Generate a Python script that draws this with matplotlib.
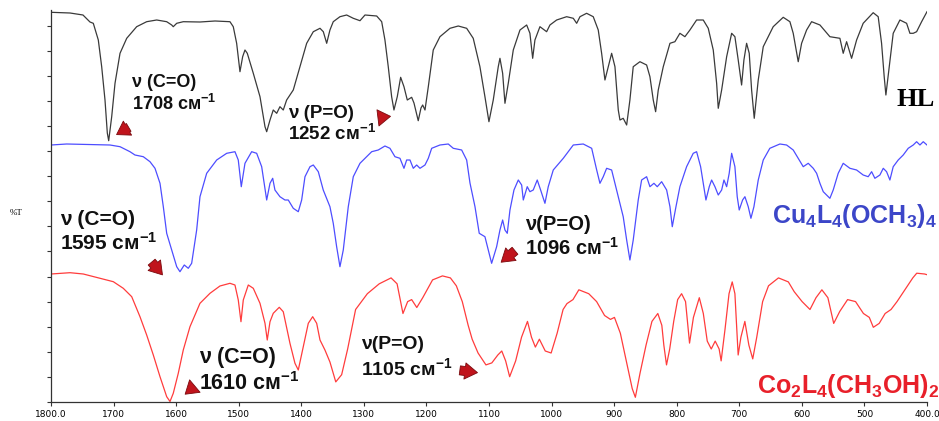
import numpy as np
import matplotlib
matplotlib.use("Agg")
import matplotlib.pyplot as plt
from matplotlib.patches import FancyArrowPatch

plt.rcParams['font.family'] = ['Liberation Sans', 'DejaVu Sans']
plt.rcParams['mathtext.fontset'] = 'custom'
plt.rcParams['mathtext.rm'] = 'Liberation Sans:bold'
plt.rcParams['mathtext.it'] = 'Liberation Sans:bold'
plt.rcParams['mathtext.bf'] = 'Liberation Sans:bold'

# IR spectra, stacked (%T on a common offset scale), wavenumber in cm-1
hl_wn = [1800, 1769.6, 1748.9, 1737.7, 1732.4, 1724.4, 1719, 1713.7, 1710, 1707.8, 1703, 1697.7,
         1689.7, 1679, 1663.1, 1647.1, 1631.1, 1615.1, 1607.1, 1604.6, 1599.1, 1588.6, 1561.9, 1537.9,
         1514, 1508.7, 1503.3, 1498, 1493.7, 1490, 1486.3, 1476.7, 1466, 1458, 1455.3, 1450, 1444.8,
         1439.3, 1434.1, 1428.8, 1423.4, 1412.8, 1402.1, 1391.4, 1380.8, 1370.1, 1364.8, 1359.4, 1354.2,
         1348.9, 1338.2, 1327.5, 1316.9, 1306.2, 1298.2, 1279.5, 1271.5, 1266.3, 1261, 1255.6, 1251.9,
         1246.6, 1241.2, 1235.9, 1230.6, 1223.6, 1219.9, 1213.1, 1208.7, 1206, 1202.3, 1197, 1189.1,
         1178.4, 1162.4, 1149.1, 1135.7, 1125.2, 1114.5, 1106.5, 1100.1, 1093.2, 1085.2, 1082.5, 1078.2,
         1074.5, 1069.2, 1061.2, 1050.5, 1039.8, 1034.6, 1030.2, 1026.6, 1018.6, 1007.9, 1002.6, 991.9,
         975.9, 965.3, 959.9, 954.6, 944, 933.4, 925.4, 920, 914.7, 909.4, 904, 898.7, 893.4, 890.7,
         885.5, 880, 874.8, 869.5, 858.8, 848.1, 842.8, 837.5, 833.7, 829.5, 821.5, 810.8, 802.9, 794.9,
         786.9, 778.9, 768.2, 757.6, 749.6, 741.6, 736.2, 733.6, 728.2, 720.2, 712.2, 707, 701.7, 696.3,
         692.6, 688.3, 684.1, 680.3, 676.1, 669.7, 661.7, 645.8, 629.8, 619.1, 613.8, 605.8, 600.4, 592.4,
         584.4, 571.1, 555.2, 539.2, 533.9, 528.5, 520.5, 512.5, 502, 486, 478, 472.6, 468.4, 465.7,
         460.4, 454, 443.3, 432.6, 427.3, 422, 416.6, 408.6, 400]
hl_t = [389.7, 389, 387, 380, 378.7, 362, 335.3, 302, 269, 261.3, 285.3, 318.7,
        348.7, 363.7, 375.3, 380.3, 382, 380.3, 377, 375.3, 378.7, 380.3, 380, 381,
        380.3, 375.3, 358.7, 330.3, 345.3, 352, 348.7, 328.7, 305.3, 275.3, 270.3, 282, 292,
        288.7, 295.3, 292, 302, 312, 335.3, 358.7, 370.3, 373.7, 370.3, 358.7, 372,
        380.3, 385.3, 387, 383.7, 381.3, 387, 386, 380.3, 362, 335.3, 305.3, 292,
        305.3, 324.7, 315.3, 302, 304.7, 299, 281.3, 294, 297, 292, 315.3, 352,
        365.3, 373.7, 376, 373.7, 363.7, 335.3, 305.3, 280.3, 302, 335.3, 343.7, 328.7,
        298.7, 318.7, 352, 372, 377, 368.7, 343.7, 362, 375.3, 370.3, 377, 382,
        385.3, 383.7, 378.7, 385.3, 388.7, 385.3, 372, 348.7, 322, 335.3, 348.7, 335.3, 292, 282,
        283.7, 277, 302, 335.3, 340.3, 337, 325.3, 302, 290.3, 312, 335.3, 358.7, 360.3, 368.7,
        365.3, 372, 382, 382, 373.7, 352, 318.7, 293.7, 312, 345.3, 368.7, 365.3, 342, 317,
        342, 358.7, 348.7, 312, 283.7, 322, 355.3, 375.3, 384.7, 380.3, 368.7, 340.3, 358.7, 372,
        380.3, 377, 365.3, 363.7, 348.7, 360.3, 343.7, 362, 378.7, 389.3, 385.3, 358.7, 325.3, 307,
        335.3, 368.7, 382, 378.7, 368.7, 368.7, 370.3, 380.3, 390.3]

cu_wn = [1800, 1774.9, 1705.7, 1689.7, 1673.8, 1665.8, 1652.5, 1641.8, 1633.8, 1625.8, 1620.5, 1615.1,
         1607.1, 1599.1, 1593.9, 1587, 1580.6, 1575.2, 1567.2, 1561.9, 1551.2, 1535.2, 1519.2, 1506,
         1500.7, 1495.9, 1490, 1479.3, 1471.3, 1463.3, 1455.3, 1450, 1445.7, 1442.1, 1434.1, 1426.1,
         1420.8, 1412.8, 1404.8, 1399.4, 1394.1, 1386.1, 1380.8, 1372.8, 1364.9, 1354.2, 1348.9, 1343.5,
         1338.2, 1332.9, 1324.9, 1316.9, 1306.2, 1295.5, 1287.5, 1277, 1266.3, 1258.3, 1250.3, 1242.3,
         1235.9, 1231.6, 1226.3, 1221, 1215.6, 1210.3, 1202.3, 1197, 1191.6, 1178.4, 1165.1, 1157.1,
         1143.7, 1135.7, 1130.4, 1122.4, 1115.6, 1106.5, 1101.2, 1095.8, 1087.8, 1082.5, 1078.2, 1074.5,
         1070.8, 1066.5, 1060.1, 1053.2, 1047.8, 1045.2, 1038.9, 1034.6, 1029.3, 1022.9, 1017.5, 1010.6,
         1005.3, 997.3, 981.3, 965.3, 949.4, 935.9, 927.9, 922.7, 917.4, 912, 904, 896, 885.5, 880,
         874.8, 869.5, 861.5, 856.1, 848.1, 842.8, 836.4, 831.1, 824.1, 816.1, 810.8, 807.1, 801.2,
         794.9, 784.2, 773.6, 768.2, 761.8, 757.6, 753.3, 748, 744.2, 738.9, 733.6, 728.2, 724.5, 720.2,
         716.1, 712.2, 707, 703.3, 700.1, 694.7, 691, 685.7, 681.4, 676.6, 669.7, 661.7, 651.2, 635.1,
         624.4, 613.8, 605.8, 597.8, 589.8, 581.8, 576.4, 571.1, 565.8, 555.2, 549.9, 541.9, 533.9,
         523.2, 512.5, 502, 494, 488.5, 483.3, 475.3, 469.9, 464.6, 459.3, 454, 446, 438, 430, 422,
         416.6, 411.3, 406, 400]
cu_t = [257, 258, 257, 255.3, 250.3, 247, 245.3, 240.3, 233.7, 218.7, 195.3, 168.7,
        152, 135.3, 130.3, 137, 133.7, 138.7, 172, 205.3, 228.7, 242, 248.7, 250.3,
        242, 215.3, 238.7, 250.3, 248.7, 235.3, 202, 218.7, 223.7, 212, 205.3, 202,
        202, 193.7, 190.3, 202, 225.3, 235.3, 237, 230.3, 212, 195.3, 178.7, 155.3,
        135.3, 152, 195.3, 225.3, 238.7, 245.3, 250.3, 252, 256, 253.7, 245.3, 243.7,
        233.7, 242, 242, 233.7, 237, 233.7, 237, 243.7, 253.7, 257, 258, 253.7,
        252, 242, 219, 195.3, 168.7, 165.3, 152, 138.7, 155.3, 172, 182, 172,
        168.7, 192, 212, 222, 217, 202, 215.3, 210.3, 212, 222, 212, 198.7,
        215.3, 232, 243.7, 257, 258, 253.7, 232, 218.7, 225.3, 233.7, 232, 212, 185.3, 162,
        142, 162, 202, 222, 225.3, 215.3, 218.7, 215.3, 220.3, 212, 195.3, 175.3, 195.3,
        215.3, 235.3, 248.7, 250.3, 235.3, 218.7, 202, 215.3, 222, 215.3, 207, 212, 222, 215.3,
        228.7, 248.7, 235.3, 205.3, 192, 202, 205.3, 195.3, 183.7, 195.3, 222, 242, 253.7, 258,
        257, 252, 243.7, 235.3, 238.7, 233.7, 228.7, 218.7, 210.3, 203.7, 212, 228.7, 238.7,
        233.7, 232, 227, 225.3, 230.3, 223.7, 227, 233.7, 230.3, 222, 235.3, 242, 247, 253.7, 257,
        260.3, 257, 260.3, 257]

co_wn = [1800, 1769.6, 1748.4, 1721.7, 1700.4, 1684.5, 1671, 1657.8, 1647.1, 1636.5, 1625.8, 1615.1,
         1609.8, 1604.6, 1596.6, 1588.6, 1577.9, 1561.9, 1545.9, 1530, 1514, 1506, 1500.7, 1496.4,
         1492.7, 1484.7, 1476.7, 1466, 1458, 1454.4, 1450, 1444.8, 1435.2, 1428.8, 1418.1, 1410.1,
         1404.8, 1396.8, 1388.8, 1381.8, 1375.4, 1370.1, 1362.2, 1354.2, 1344.9, 1335.5, 1325.9, 1313.2,
         1294.4, 1275.4, 1256.5, 1246.9, 1237.5, 1230, 1223.6, 1215.4, 1205.9, 1190.2, 1174.4, 1161.7,
         1152.2, 1142.7, 1133.3, 1126.9, 1117.5, 1104.9, 1095.5, 1085.9, 1079.6, 1073.4, 1067, 1057.4,
         1048, 1038.5, 1032.1, 1025.9, 1019.5, 1010.1, 1000.7, 991.1, 981.6, 975.4, 965.8, 956.4,
         940.6, 928, 915.3, 905.9, 899.5, 890.1, 880.6, 871.1, 866.1, 858.5, 849, 839.6, 830.2, 823.8,
         820.6, 816.3, 811.2, 804.8, 798.5, 792.2, 785.9, 779.5, 773.3, 763.9, 757.5, 751.2, 744.8,
         738.5, 732.2, 729, 722.8, 716.4, 711.3, 707, 701.8, 697.4, 691.1, 684.7, 678.5, 672.1, 662.7,
         653.3, 637.4, 621.6, 612.2, 599.6, 587, 577.4, 568, 558.4, 549.1, 539.5, 526.9, 514.2, 501.6,
         492.2, 485.8, 476.4, 466.9, 457.5, 447.9, 435.3, 422.7, 416.4, 403.9, 400]
co_t = [128, 129.3, 128, 123.7, 120.3, 113.7, 105.3, 85.3, 67, 47, 25.3, 5.3,
        0.5, 8.7, 28.7, 52, 75.3, 98.7, 108.7, 116, 118.7, 117, 102, 80.3,
        102, 117, 113.7, 98.7, 78.7, 62, 80.3, 88.7, 94.7, 90.3, 58.7, 38.7,
        32, 55.3, 78.7, 85.3, 78.7, 62, 52, 40, 20.1, 27.3, 53, 92.5,
        108.3, 118.2, 124.1, 118.2, 88.5, 100.4, 102.4, 94.5, 104.3, 122.1, 126.1, 124.1,
        116.2, 100.4, 76.7, 62.8, 49, 37.1, 39.1, 47, 51, 41.1, 25.3, 41.1,
        64.8, 80.6, 64.8, 54.9, 62.8, 51, 49, 68.8, 92.5, 98.4, 102.4, 112.2,
        108.3, 100.4, 86.5, 82.6, 84.6, 68.8, 41.1, 13.4, 4.7, 29.2, 56.9, 80.6, 88.5, 76.7,
        56.9, 37.1, 53, 80.6, 102.4, 108.3, 100.4, 58.9, 84.6, 104.3, 88.5, 60.9, 53,
        60.9, 53, 41.1, 72.7, 108.3, 120.1, 108.3, 47, 64.8, 80.6, 56.9, 43.1, 64.8, 100.4,
        116.2, 124.1, 120.1, 110.3, 100.4, 92.5, 104.3, 112.2, 104.3, 78.6, 90.5, 102.4, 100.4, 88.5,
        84.6, 74.7, 78.6, 88.5, 92.5, 100.4, 112.2, 124.1, 128.8, 128, 127.3]

x_ticks = [1800, 1700, 1600, 1500, 1400, 1300, 1200, 1100, 1000, 900, 800, 700, 600, 500, 400]
x_labels = ["1800.0", "1700", "1600", "1500", "1400", "1300", "1200", "1100", "1000",
            "900", "800", "700", "600", "500", "400.0"]

fig = plt.figure(figsize=(9.39, 4.21), dpi=100)
ax = fig.add_axes([51 / 939, 19 / 421, 876 / 939, 392 / 421])

ax.plot(hl_wn, hl_t, color="#3a3a3a", lw=0.9)
ax.plot(cu_wn, cu_t, color="#4d4dff", lw=0.9)
ax.plot(co_wn, co_t, color="#ff3c3c", lw=0.9)

ax.set_xlim(1800, 400)
ax.set_ylim(0, 392)
ax.set_xticks(x_ticks)
ax.set_xticklabels(x_labels, fontsize=6.5, family="DejaVu Sans")
ax.set_yticks(np.arange(0, 390, 25.1))
ax.set_yticklabels([])
ax.tick_params(axis="both", direction="out", length=3, width=0.8, color="#333333")
ax.tick_params(axis="x", pad=3)
for s in ["top", "right"]:
    ax.spines[s].set_visible(False)
for s in ["left", "bottom"]:
    ax.spines[s].set_linewidth(0.9)
    ax.spines[s].set_color("#333333")

fig.text(16 / 939, 1 - 213 / 421, "%T", family="Liberation Serif", fontsize=6.5,
         ha="center", va="center")

# compound labels
ax.text(387, 296, "HL", family="Liberation Serif", fontweight="bold", fontsize=19,
        ha="right", va="baseline", clip_on=False)
ax.text(385, 179, r"Cu$_4$L$_4$(OCH$_3$)$_4$", fontweight="bold", fontsize=18,
        color="#3c46c8", ha="right", va="baseline", clip_on=False)
ax.text(381, 9, r"Co$_2$L$_4$(CH$_3$OH)$_2$", fontweight="bold", fontsize=18,
        color="#e8202a", ha="right", va="baseline", clip_on=False)

# band annotations: (line1, line2, x, y1, y2, size)
notes = [
    ("ν (C=O)", "1708 см$^{-1}$", 1671, 315, 292, 13),
    ("ν (P=O)", "1252 см$^{-1}$", 1421, 284, 262, 13.5),
    ("ν (C=O)", "1595 см$^{-1}$", 1785, 177, 152, 15),
    ("ν(P=O)", "1096 см$^{-1}$", 1042, 172, 147, 14.5),
    ("ν(P=O)", "1105 см$^{-1}$", 1304, 53, 27, 14),
    ("ν (C=O)", "1610 см$^{-1}$", 1563, 39, 12, 15.5),
]
for l1, l2, x, y1, y2, fs in notes:
    ax.text(x, y1, l1, fontweight="bold", fontsize=fs, va="baseline", color="#111111")
    ax.text(x, y2, l2, fontweight="bold", fontsize=fs, va="baseline", color="#111111")

arrows = [
    ((1672, 276), (1699, 266)),
    ((1279, 284), (1253, 286)),
    ((1642, 142), (1619, 125)),
    ((1055, 153), (1084, 138)),
    ((1151, 32), (1114, 29)),
    ((1570, 16), (1589, 6)),
]
for tail, head in arrows:
    ax.add_patch(FancyArrowPatch(tail, head,
                                 arrowstyle="simple,head_length=0.7,head_width=0.9,tail_width=0.5",
                                 mutation_scale=13, fc="#c0141c", ec="#7a0a0e", lw=0.6,
                                 clip_on=False))

fig.savefig("out.png", dpi=100)
